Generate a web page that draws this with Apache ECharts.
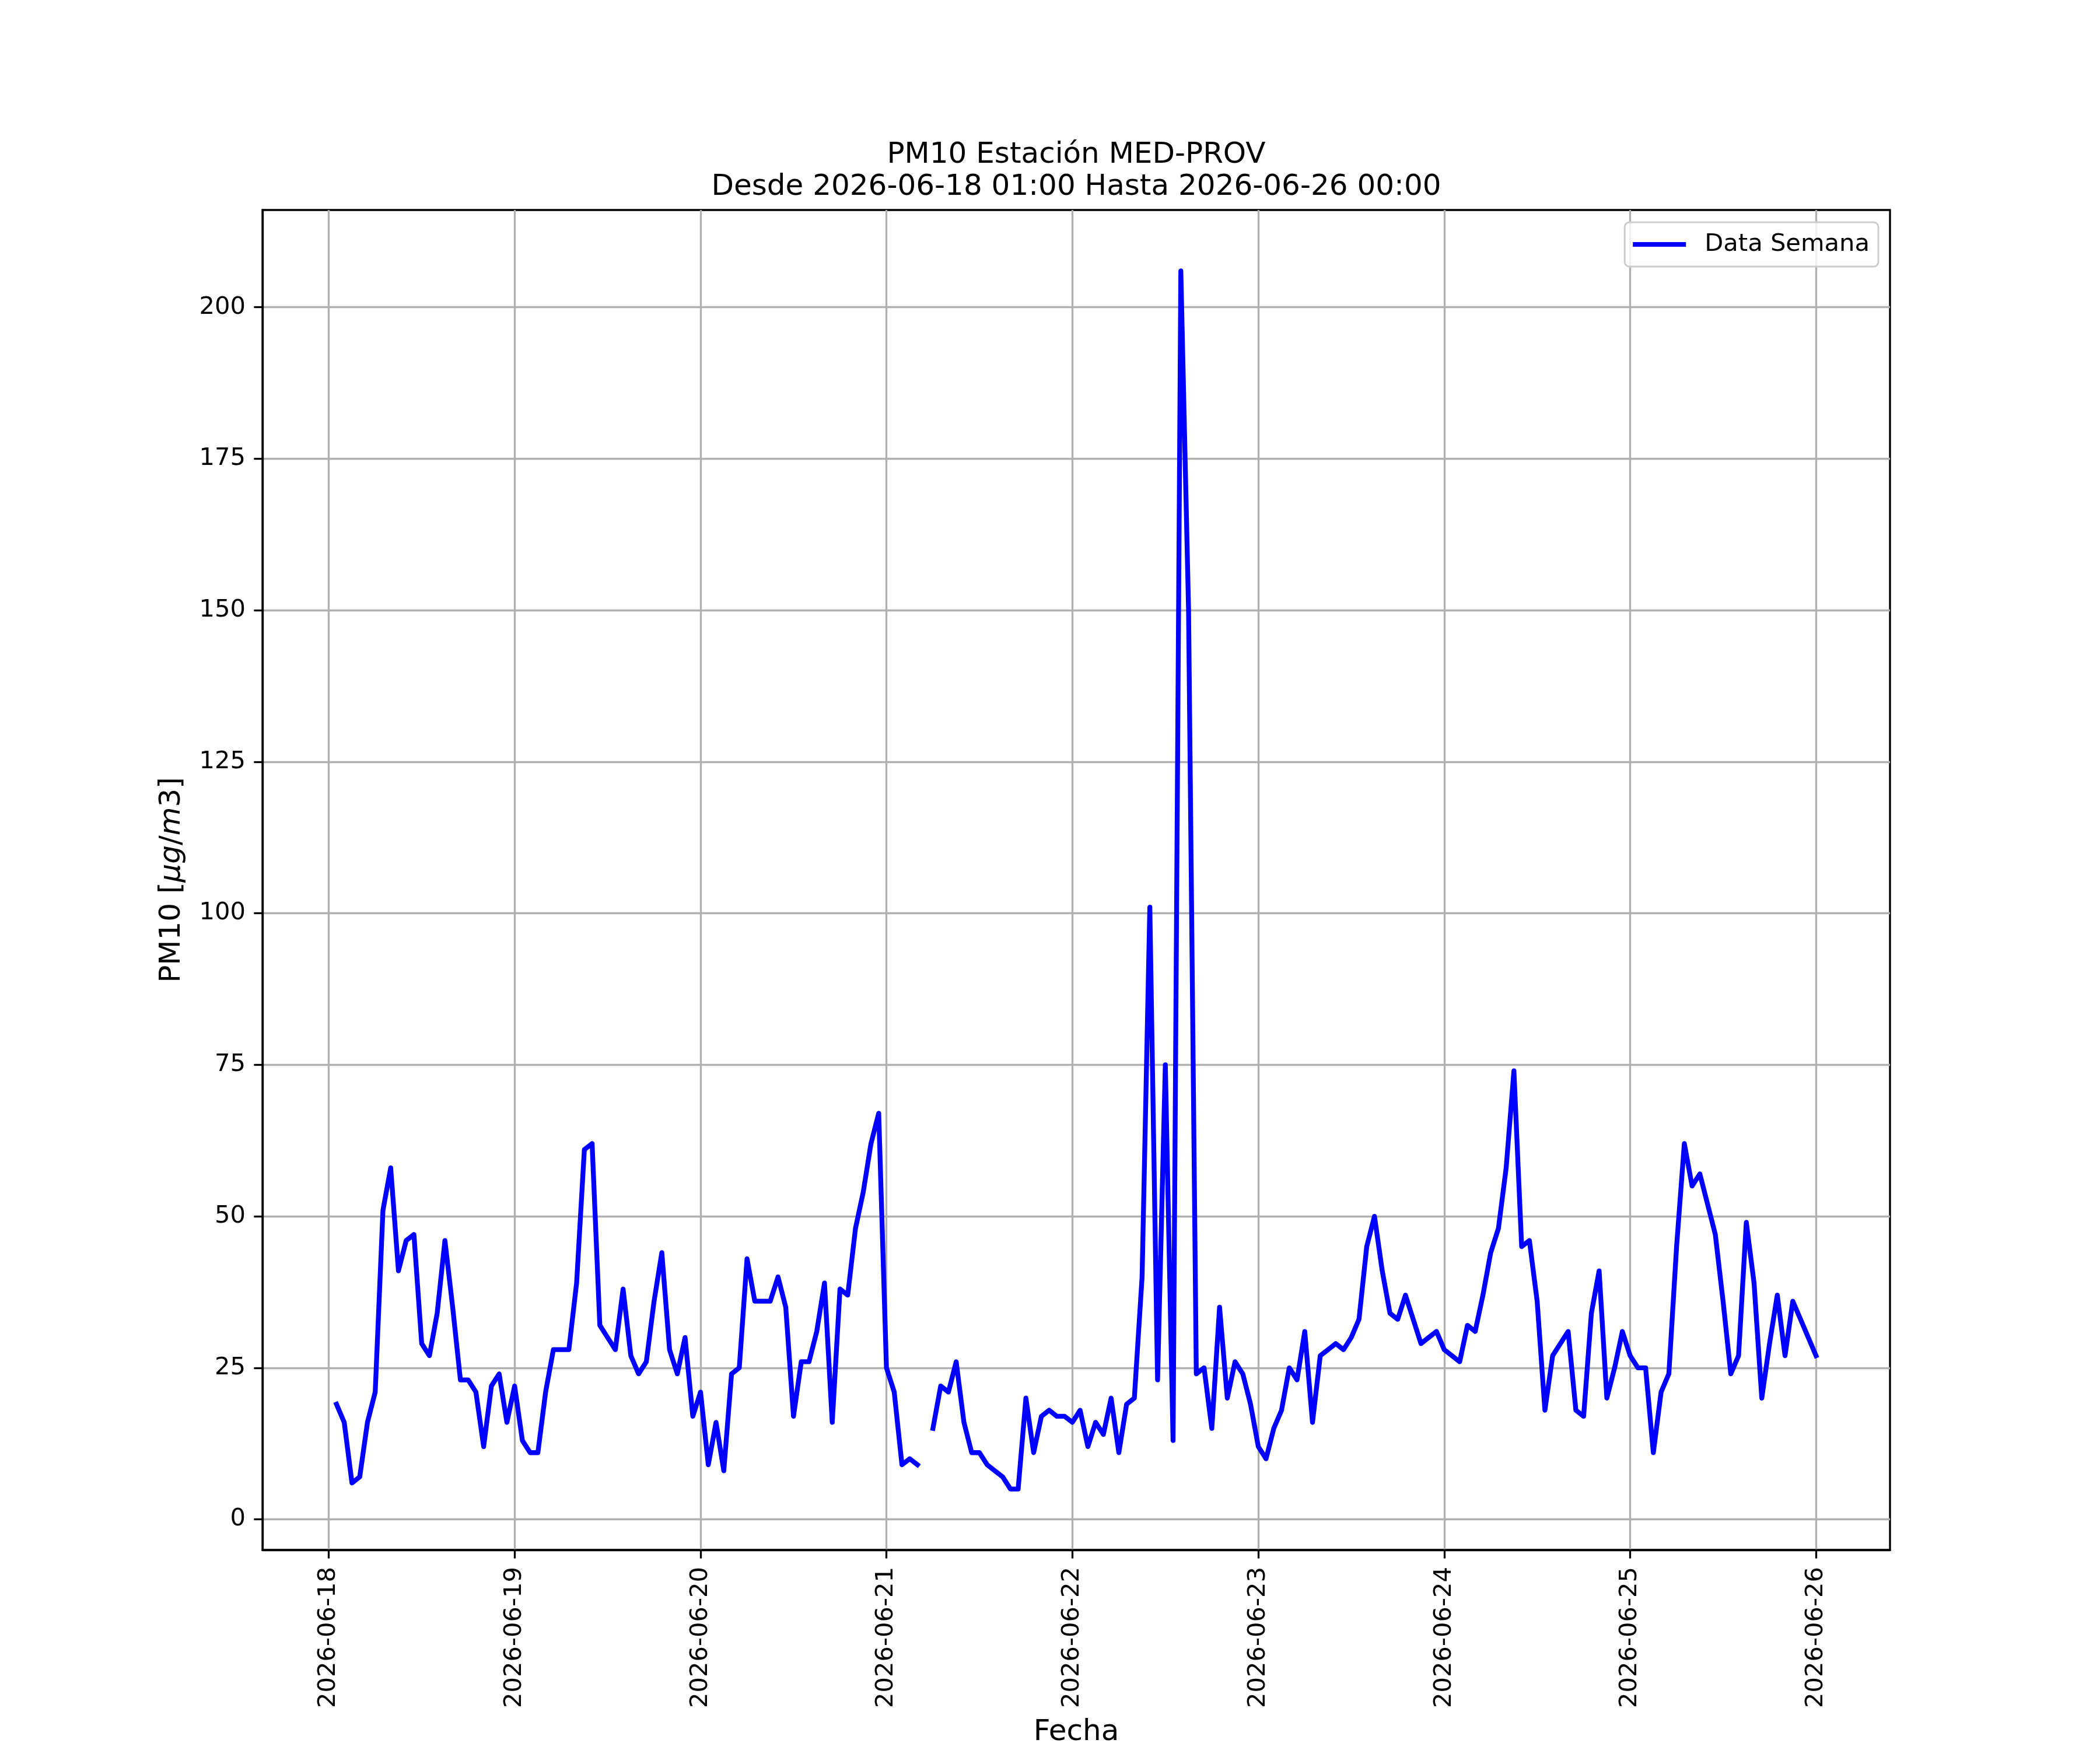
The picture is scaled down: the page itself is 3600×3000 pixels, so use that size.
<!DOCTYPE html>
<html>
<head>
<meta charset="utf-8">
<title>PM10 Estación MED-PROV</title>
<script src="https://cdn.jsdelivr.net/npm/echarts@6/dist/echarts.min.js"></script>
<style>
  html, body { margin: 0; padding: 0; background: #fff; }
  #chart { width: 3600px; height: 3000px; }
</style>
</head>
<body>
<div id="chart"></div>
<script>
// valores horarios PM10, de 01:00 a 24:00 (la hora 24 es las 00:00 del dia siguiente)
var dia18 = [19, 16, 6, 7, 16, 21, 51, 58, 41, 46, 47, 29, 27, 34, 46, 35, 23, 23, 21, 12, 22, 24, 16, 22];
var dia19 = [13, 11, 11, 21, 28, 28, 28, 39, 61, 62, 32, 30, 28, 38, 27, 24, 26, 36, 44, 28, 24, 30, 17, 21];
var dia20 = [9, 16, 8, 24, 25, 43, 36, 36, 36, 40, 35, 17, 26, 26, 31, 39, 16, 38, 37, 48, 54, 62, 67, 25];
var dia21 = [21, 9, 10, 9, null, 15, 22, 21, 26, 16, 11, 11, 9, 8, 7, 5, 5, 20, 11, 17, 18, 17, 17, 16];
var dia22 = [18, 12, 16, 14, 20, 11, 19, 20, 40, 101, 23, 75, 13, 206, 150, 24, 25, 15, 35, 20, 26, 24, 19, 12];
var dia23 = [10, 15, 18, 25, 23, 31, 16, 27, 28, 29, 28, 30, 33, 45, 50, 41, 34, 33, 37, 33, 29, 30, 31, 28];
var dia24 = [27, 26, 32, 31, 37, 44, 48, 58, 74, 45, 46, 36, 18, 27, 29, 31, 18, 17, 34, 41, 20, 25, 31, 27];
var dia25 = [25, 25, 11, 21, 24, 45, 62, 55, 57, 52, 47, 36, 24, 27, 49, 39, 20, 29, 37, 27, 36, 33, 30, 27];

var fechas = ['2026-06-18', '2026-06-19', '2026-06-20', '2026-06-21', '2026-06-22',
              '2026-06-23', '2026-06-24', '2026-06-25', '2026-06-26'];
var yTicks = [0, 25, 50, 75, 100, 125, 150, 175, 200];

var titulo1 = 'PM10 Estación MED-PROV';
var titulo2 = 'Desde 2026-06-18 01:00 Hasta 2026-06-26 00:00';

var FONT = 'DejaVu Sans';

// x en horas desde 2026-06-18 00:00
var pm10 = [].concat(dia18, dia19, dia20, dia21, dia22, dia23, dia24, dia25);
var serie = [];
for (var i = 0; i < pm10.length; i++) {
	serie.push([i + 1, pm10[i]]);
}
var xTicks = [];
for (var k = 0; k < fechas.length; k++) {
	xTicks.push(k * 24);
}

// margenes como matplotlib (5%)
var x0 = 1, x1 = pm10.length;
var xPad = (x1 - x0) * 0.05;
var yMin = 5, yMax = 206;
var yPad = (yMax - yMin) * 0.05;

var chart = echarts.init(document.getElementById('chart'));
var option = {
	animation: false,
	backgroundColor: '#fff',
	textStyle: { fontFamily: FONT },
	graphic: [{
		type: 'text', x: 1845, y: 266,
		style: { text: titulo1, fontSize: 50, fontFamily: FONT, fill: '#000', align: 'center', verticalAlign: 'middle' }
	}, {
		type: 'text', x: 1845, y: 321,
		style: { text: titulo2, fontSize: 50, fontFamily: FONT, fill: '#000', align: 'center', verticalAlign: 'middle' }
	}],
	legend: {
		data: ['Data Semana'],
		right: 380,
		top: 381,
		icon: 'rect',
		itemWidth: 91,
		itemHeight: 8,
		padding: [14, 15, 14, 14],
		backgroundColor: 'rgba(255,255,255,0.8)',
		borderColor: '#cccccc',
		borderWidth: 3,
		borderRadius: 8,
		selectedMode: false,
		textStyle: { fontSize: 41.67, color: '#000', fontFamily: FONT, padding: [0, 0, 0, 27], lineHeight: 48 }
	},
	grid: {
		left: 450,
		right: 360,
		top: 360,
		bottom: 330,
		show: true,
		borderColor: '#000',
		borderWidth: 3.3,
		backgroundColor: 'transparent'
	},
	xAxis: {
		type: 'value',
		min: x0 - xPad,
		max: x1 + xPad,
		name: 'Fecha',
		nameLocation: 'middle',
		nameGap: 288,
		nameTextStyle: { fontSize: 50, color: '#000', fontFamily: FONT },
		axisLine: { show: true, onZero: false, lineStyle: { color: '#000', width: 3.3 } },
		axisTick: { show: true, length: 14.6, lineStyle: { color: '#000', width: 3.3 }, customValues: xTicks },
		axisLabel: {
			customValues: xTicks,
			rotate: 90,
			margin: 29,
			fontSize: 41.67,
			color: '#000',
			fontFamily: FONT,
			formatter: function (v) {
				return fechas[Math.round(v / 24)];
			}
		},
		splitLine: { show: true, lineStyle: { color: '#b0b0b0', width: 3.3 } }
	},
	yAxis: {
		type: 'value',
		min: yMin - yPad,
		max: yMax + yPad,
		name: '{n|PM10 [}{i|μg}{n|/}{i|m}{n|3]}',
		nameLocation: 'middle',
		nameGap: 130,
		nameTextStyle: {
			color: '#000',
			rich: {
				n: { fontSize: 50, fontFamily: FONT, color: '#000' },
				i: { fontSize: 50, fontFamily: FONT, fontStyle: 'italic', color: '#000' }
			}
		},
		axisLine: { show: true, onZero: false, lineStyle: { color: '#000', width: 3.3 } },
		axisTick: { show: true, length: 14.6, lineStyle: { color: '#000', width: 3.3 }, customValues: yTicks },
		axisLabel: { customValues: yTicks, margin: 29, fontSize: 41.67, color: '#000', fontFamily: FONT },
		splitLine: { show: true, lineStyle: { color: '#b0b0b0', width: 3.3 } }
	},
	series: [{
		name: 'Data Semana',
		type: 'line',
		data: serie,
		showSymbol: false,
		symbol: 'none',
		connectNulls: false,
		color: '#0000ff',
		lineStyle: { color: '#0000ff', width: 8.3, join: 'round', cap: 'square' }
	}]
};
chart.setOption(option);
</script>
</body>
</html>
